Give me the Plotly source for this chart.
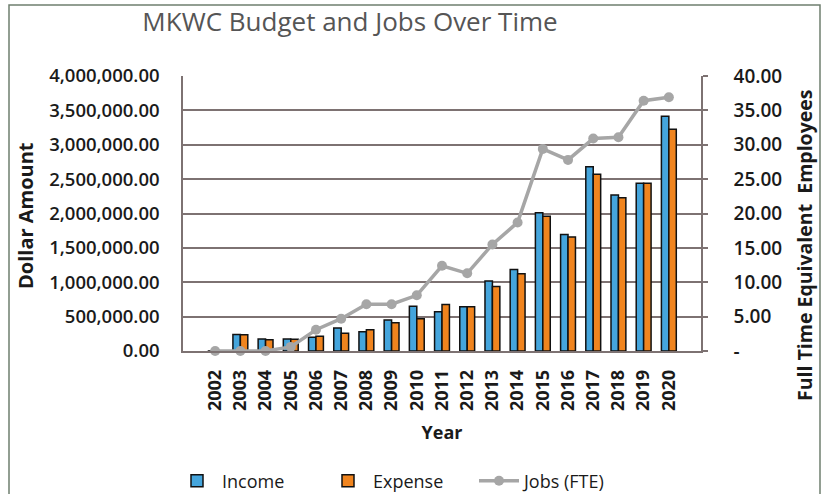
import plotly.graph_objects as go

years = [str(y) for y in range(2002, 2021)]
income = [0, 240000, 175000, 175000, 200000, 335000, 280000, 450000, 650000, 570000,
          645000, 1020000, 1185000, 2010000, 1695000, 2680000, 2270000, 2440000, 3415000]
expense = [0, 235000, 165000, 170000, 215000, 260000, 310000, 410000, 470000, 675000,
           645000, 940000, 1125000, 1960000, 1660000, 2570000, 2230000, 2440000, 3225000]
jobs = [0, 0, 0, 0.6, 3.1, 4.7, 6.8, 6.8, 8.1, 12.4,
        11.3, 15.5, 18.7, 29.4, 27.8, 30.9, 31.1, 36.4, 36.9]

left_ticks = [i * 500000 for i in range(9)]
left_ticktext = [f"{v:,.2f}" for v in left_ticks]
right_ticks = [i * 5 for i in range(9)]
right_ticktext = ["-"] + [f"{v:.2f}" for v in right_ticks[1:]]

FONT = "Open Sans"
DARK = "#1a1a1a"
GRID = "#7d7272"

fig = go.Figure()
fig.add_trace(go.Bar(x=years, y=income, name="Income",
                     marker=dict(color="#45A5DC", line=dict(color="#111111", width=1.5))))
fig.add_trace(go.Bar(x=years, y=expense, name="Expense",
                     marker=dict(color="#F0841E", line=dict(color="#111111", width=1.5))))
fig.add_trace(go.Scatter(x=years, y=jobs, name="Jobs (FTE)", yaxis="y2", mode="lines+markers",
                         line=dict(color="#A6A6A6", width=3.5),
                         marker=dict(color="#A6A6A6", size=10, symbol="circle"),
                         cliponaxis=False))

W, H = 825, 494
L, R, T, B = 183, 124, 76, 143
pw, ph = W - L - R, H - T - B

def px_x(x):
    return (x - L) / pw

def px_y(y):
    return 1 - (y - T) / ph

fig.update_layout(
    width=W, height=H,
    margin=dict(l=L, r=R, t=T, b=B, autoexpand=False),
    paper_bgcolor="white", plot_bgcolor="white",
    font=dict(family=FONT, color=DARK),
    title=dict(text="MKWC Budget and Jobs Over Time", xref="container", x=350 / W, xanchor="center",
               yref="container", y=1 - 22 / H, yanchor="middle",
               font=dict(family=FONT, size=26, color="#555555")),
    barmode="group", bargap=0.41, bargroupgap=0,
    showlegend=True,
    legend=dict(orientation="h", x=px_x(172), xanchor="left", y=px_y(481), yanchor="middle",
                font=dict(family=FONT, size=18, color=DARK), traceorder="normal",
                itemwidth=40, entrywidth=96, entrywidthmode="pixels"),
    xaxis=dict(type="category", tickangle=-90, showgrid=False, automargin=False,
               showline=True, linecolor=GRID, linewidth=1.5, mirror=False,
               ticklabelstandoff=10,
               tickfont=dict(family=FONT, size=18, color=DARK, weight=700),
               title=dict(text="Year", font=dict(family=FONT, size=18, color=DARK, weight=700),
                          standoff=16)),
    yaxis=dict(range=[0, 4000000], tickvals=left_ticks, ticktext=left_ticktext, automargin=False,
               showgrid=True, gridcolor=GRID, gridwidth=1.5,
               showline=True, linecolor=GRID, linewidth=1.5, zeroline=False,
               ticks="", ticklabelstandoff=18,
               tickfont=dict(family=FONT, size=18.5, color=DARK, weight=600)),
    yaxis2=dict(range=[0, 40], tickvals=right_ticks, ticktext=right_ticktext, automargin=False,
                overlaying="y", side="right", showgrid=False,
                showline=True, linecolor=GRID, linewidth=1.5, zeroline=False,
                ticks="outside", ticklen=5, tickcolor=GRID, tickwidth=1.5,
                ticklabelstandoff=22,
                tickfont=dict(family=FONT, size=19, color=DARK, weight=600)),
    annotations=[
        dict(text="Dollar Amount", xref="paper", yref="paper", x=px_x(26), y=px_y(216),
             xanchor="center", yanchor="middle", textangle=-90, showarrow=False,
             font=dict(family=FONT, size=20, color=DARK, weight=700)),
        dict(text="Full Time Equivalent  Employees", xref="paper", yref="paper",
             x=px_x(804), y=px_y(245), xanchor="center", yanchor="middle", textangle=-90,
             showarrow=False, font=dict(family=FONT, size=19.5, color=DARK, weight=700)),
    ],
    shapes=[dict(type="rect", xref="paper", yref="paper",
                 x0=px_x(9), x1=px_x(820), y0=px_y(505), y1=px_y(5),
                 line=dict(color="#6f7f6f", width=1.5), fillcolor="rgba(0,0,0,0)", layer="below")],
)

fig.write_html("out.html")
